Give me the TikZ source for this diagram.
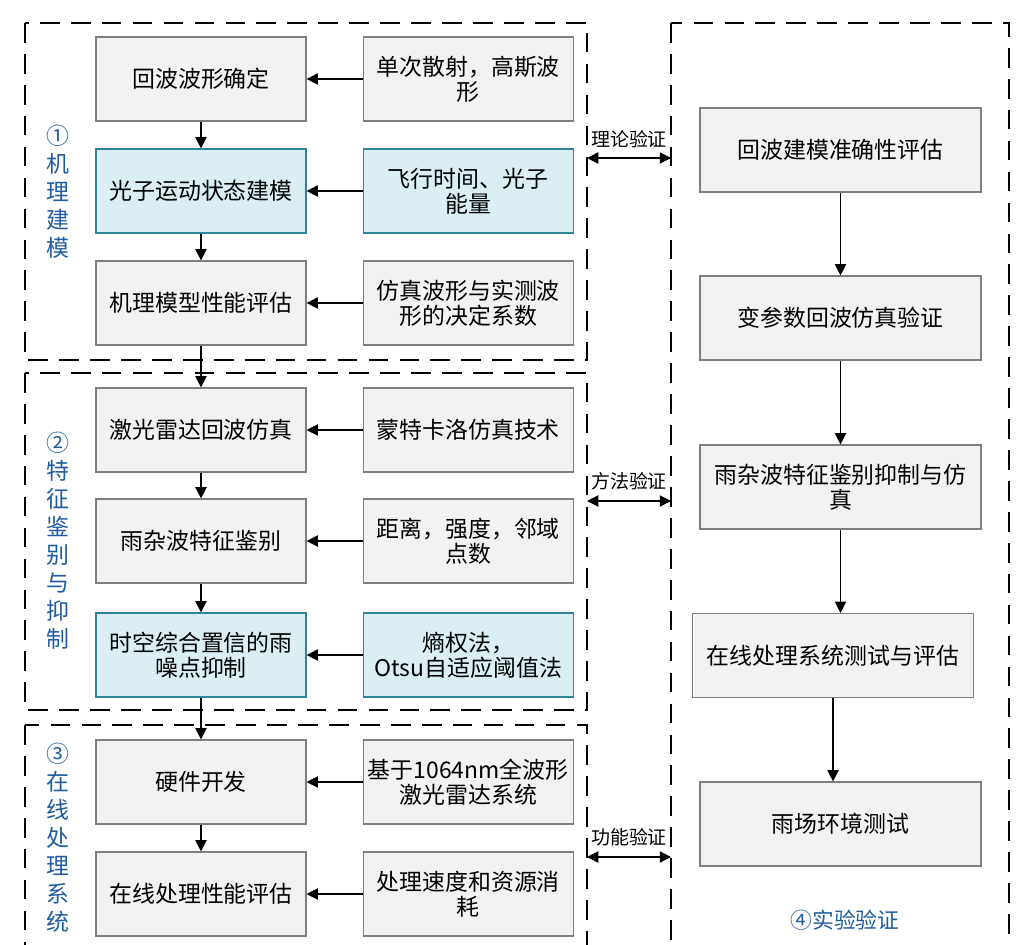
\documentclass[tikz,border=0pt]{standalone}
\usepackage{fontspec}
\setmainfont{Noto Sans CJK SC}
\usetikzlibrary{arrows.meta,positioning}
\definecolor{boxgrey}{HTML}{F2F2F2}
\definecolor{boxline}{HTML}{7F7F7F}
\definecolor{boxblue}{HTML}{DAEEF3}
\definecolor{blueline}{HTML}{31849B}
\definecolor{tagblue}{HTML}{1F5C9E}
\tikzset{
  stepbox/.style={draw=boxline, fill=boxgrey, line width=0.8pt, minimum width=5.25cm,
    minimum height=2.1cm, align=center, font=\fontsize{16.3}{17.8}\selectfont},
  keybox/.style={stepbox, draw=blueline, fill=boxblue},
  checkbox/.style={stepbox, minimum width=7.025cm},
  grpbox/.style={draw, line width=1pt, dash pattern=on 14pt off 8pt},
  tagtext/.style={text=tagblue, align=center, font=\fontsize{16.3}{19.9}\selectfont},
  checktext/.style={font=\fontsize{13.5}{15}\selectfont, inner sep=1pt},
  flow/.style={-{Triangle[width=8pt,length=8pt]}, line width=0.9pt},
  twoway/.style={{Triangle[width=8pt,length=8pt]}-{Triangle[width=8pt,length=8pt]}, line width=0.9pt}
}
\begin{document}
\begin{tikzpicture}[x=0.025cm, y=-0.025cm]
\clip (0,0) rectangle (1020,945);
\fill[white] (0,0) rectangle (1020,945);
% dashed frames
\draw[grpbox] (25,23) rectangle (587,360);
\draw[grpbox] (25,373) rectangle (587,710);
\draw[grpbox] (25,725) rectangle (587,990);
\draw[grpbox] (671,23) rectangle (1009,990);
% left column
\node[stepbox] (l1) at (201,79) {回波波形确定};
\node[keybox] (l2) at (201,191) {光子运动状态建模};
\node[stepbox] (l3) at (201,303) {机理模型性能评估};
\node[stepbox] (l4) at (201,430) {激光雷达回波仿真};
\node[stepbox] (l5) at (201,541) {雨杂波特征鉴别};
\node[keybox] (l6) at (201,655) {时空综合置信的雨\\噪点抑制};
\node[stepbox] (l7) at (201,782) {硬件开发};
\node[stepbox] (l8) at (201,894) {在线处理性能评估};
% middle column
\node[stepbox, right=1.4cm of l1] (m1) {单次散射，高斯波\\形};
\node[keybox, right=1.4cm of l2] (m2) {飞行时间、光子\\能量};
\node[stepbox, right=1.4cm of l3] (m3) {仿真波形与实测波\\形的决定系数};
\node[stepbox, right=1.4cm of l4] (m4) {蒙特卡洛仿真技术};
\node[stepbox, right=1.4cm of l5] (m5) {距离，强度，邻域\\点数};
\node[keybox, right=1.4cm of l6] (m6) {熵权法，\\Otsu自适应阈值法};
\node[stepbox, right=1.4cm of l7] (m7) {基于1064nm全波形\\激光雷达系统};
\node[stepbox, right=1.4cm of l8] (m8) {处理速度和资源消\\耗};
% right column
\node[checkbox] (r1) at (840.5,150) {回波建模准确性评估};
\node[checkbox] (r2) at (840.5,318) {变参数回波仿真验证};
\node[checkbox] (r3) at (840.5,487) {雨杂波特征鉴别抑制与仿\\真};
\node[checkbox] (r4) at (833,655.5) {在线处理系统测试与评估};
\node[checkbox] (r5) at (840.5,824) {雨场环境测试};
% group tags
\node[tagtext] (t1) at (58,192) {①\\机\\理\\建\\模};
\node[tagtext] (t2) at (58,541) {②\\特\\征\\鉴\\别\\与\\抑\\制};
\node[tagtext] (t3) at (58,838) {③\\在\\线\\处\\理\\系\\统};
\node[tagtext, font=\fontsize{15.5}{17}\selectfont] (t4) at (845,920) {④实验验证};
% arrows
\foreach \a/\b in {l1/l2,l2/l3,l3/l4,l4/l5,l5/l6,l6/l7,l7/l8}
  \draw[flow] (\a) -- (\b);
\foreach \i in {1,...,8}
  \draw[flow] (m\i) -- (l\i);
\draw[flow] (r1) -- (r2);
\draw[flow] (r2) -- (r3);
\draw[flow] (r3.south) -- (r3.south |- r4.north);
\draw[flow] (r4.south) -- (r4.south |- r5.north);
% verification links
\coordinate (a1) at (587,158);
\coordinate (b1) at (671,158);
\coordinate (a2) at (587,501);
\coordinate (b2) at (671,501);
\coordinate (a3) at (587,857);
\coordinate (b3) at (671,857);
\draw[twoway] (a1) -- (b1) node[checktext, midway, above=6pt] (v1) {理论验证};
\draw[twoway] (a2) -- (b2) node[checktext, midway, above=6pt] (v2) {方法验证};
\draw[twoway] (a3) -- (b3) node[checktext, midway, above=6pt] (v3) {功能验证};
\end{tikzpicture}
\end{document}
